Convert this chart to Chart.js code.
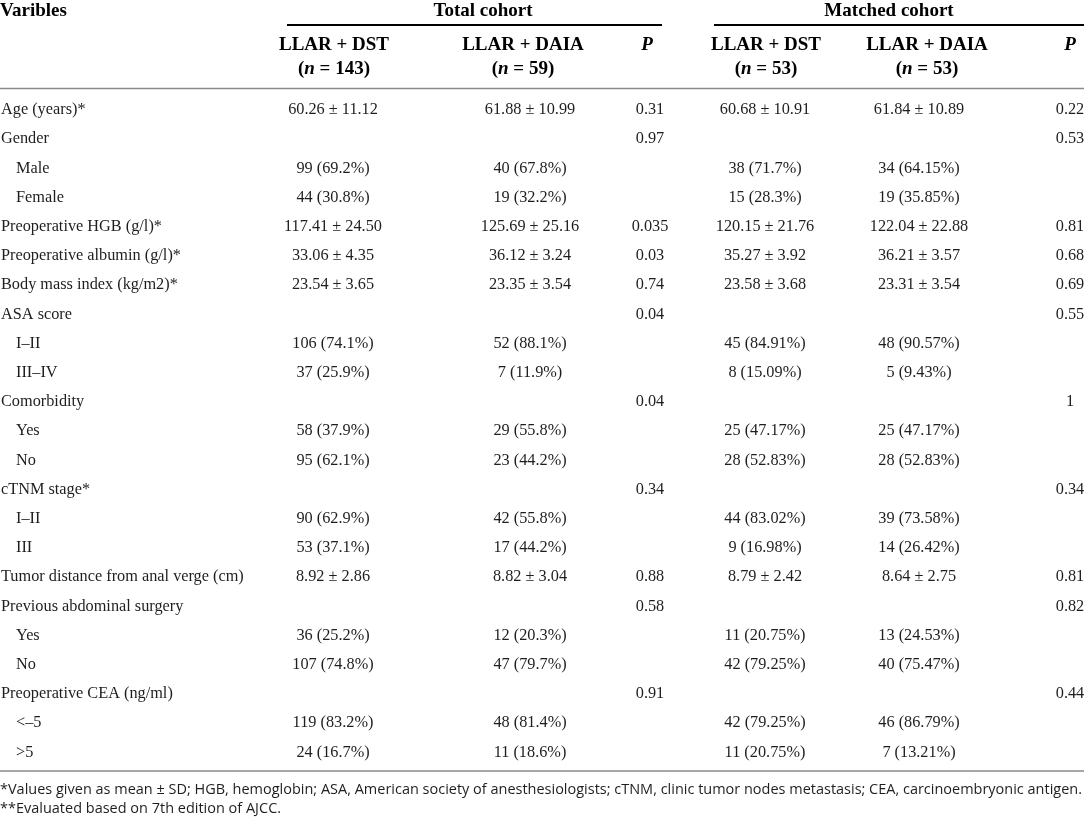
<!DOCTYPE html>
<html>
<head>
<meta charset="utf-8">
<title>Baseline characteristics</title>
<script src="https://cdn.jsdelivr.net/npm/chart.js@4.4.1/dist/chart.umd.min.js"></script>
<style>
  html, body { margin: 0; padding: 0; background: #fff; }
  #wrap { width: 1084px; height: 818px; }
</style>
</head>
<body>
<div id="wrap"><canvas id="tableChart" width="1084" height="818"></canvas></div>
<script>
// table content
const variables = [
  "Age (years)*", "Gender", "Male", "Female", "Preoperative HGB (g/l)*",
  "Preoperative albumin (g/l)*", "Body mass index (kg/m2)*", "ASA score", "I–II", "III–IV",
  "Comorbidity", "Yes", "No", "cTNM stage*", "I–II", "III",
  "Tumor distance from anal verge (cm)", "Previous abdominal surgery", "Yes", "No",
  "Preoperative CEA (ng/ml)", "<–5", ">5"
];
const subRows = [2, 3, 8, 9, 11, 12, 14, 15, 18, 19, 21, 22];

const totalDst = [
  "60.26 ± 11.12", "", "99 (69.2%)", "44 (30.8%)", "117.41 ± 24.50",
  "33.06 ± 4.35", "23.54 ± 3.65", "", "106 (74.1%)", "37 (25.9%)",
  "", "58 (37.9%)", "95 (62.1%)", "", "90 (62.9%)", "53 (37.1%)",
  "8.92 ± 2.86", "", "36 (25.2%)", "107 (74.8%)", "", "119 (83.2%)", "24 (16.7%)"
];
const totalDaia = [
  "61.88 ± 10.99", "", "40 (67.8%)", "19 (32.2%)", "125.69 ± 25.16",
  "36.12 ± 3.24", "23.35 ± 3.54", "", "52 (88.1%)", "7 (11.9%)",
  "", "29 (55.8%)", "23 (44.2%)", "", "42 (55.8%)", "17 (44.2%)",
  "8.82 ± 3.04", "", "12 (20.3%)", "47 (79.7%)", "", "48 (81.4%)", "11 (18.6%)"
];
const totalP = [
  "0.31", "0.97", "", "", "0.035", "0.03", "0.74", "0.04", "", "",
  "0.04", "", "", "0.34", "", "", "0.88", "0.58", "", "", "0.91", "", ""
];
const matchedDst = [
  "60.68 ± 10.91", "", "38 (71.7%)", "15 (28.3%)", "120.15 ± 21.76",
  "35.27 ± 3.92", "23.58 ± 3.68", "", "45 (84.91%)", "8 (15.09%)",
  "", "25 (47.17%)", "28 (52.83%)", "", "44 (83.02%)", "9 (16.98%)",
  "8.79 ± 2.42", "", "11 (20.75%)", "42 (79.25%)", "", "42 (79.25%)", "11 (20.75%)"
];
const matchedDaia = [
  "61.84 ± 10.89", "", "34 (64.15%)", "19 (35.85%)", "122.04 ± 22.88",
  "36.21 ± 3.57", "23.31 ± 3.54", "", "48 (90.57%)", "5 (9.43%)",
  "", "25 (47.17%)", "28 (52.83%)", "", "39 (73.58%)", "14 (26.42%)",
  "8.64 ± 2.75", "", "13 (24.53%)", "40 (75.47%)", "", "46 (86.79%)", "7 (13.21%)"
];
const matchedP = [
  "0.22", "0.53", "", "", "0.81", "0.68", "0.69", "0.55", "", "",
  "1", "", "", "0.34", "", "", "0.81", "0.82", "", "", "0.44", "", ""
];

const groupHeaders = ["Total cohort", "Matched cohort"];
const armHeaders = ["LLAR + DST", "LLAR + DAIA", "P", "LLAR + DST", "LLAR + DAIA", "P"];
const armN = ["143", "59", "", "53", "53", ""];
const footnotes = [
  "*Values given as mean ± SD; HGB, hemoglobin; ASA, American society of anesthesiologists; cTNM, clinic tumor nodes metastasis; CEA, carcinoembryonic antigen.",
  "**Evaluated based on 7th edition of AJCC."
];

// layout (x in table units = px, y in row units)
const colX = [333, 530, 650, 765, 919, 1070];
const headX = [334, 523, 647, 766, 927, 1070];
const groupX = [483, 889];
const groupLine = [[287, 662], [714, 1084]];
const rowTop = 110, rowStep = 29.2;
const hy = (px) => (px - rowTop) / rowStep;

const serif = '"Liberation Serif", "Times New Roman", serif';
const bodyFont = "16.3px " + serif;
const headFont = "bold 19px " + serif;

const columns = [totalDst, totalDaia, totalP, matchedDst, matchedDaia, matchedP];

function cellData(values, x) {
  const pts = [];
  values.forEach((v, r) => { if (v !== "") pts.push({ x: x, y: r, text: v }); });
  return pts;
}

const datasets = [{
  label: "Varibles",
  data: variables.map((v, r) => ({ x: subRows.includes(r) ? 16 : 1, y: r, text: v })),
  align: "left"
}];
columns.forEach((col, c) => {
  datasets.push({ label: "col" + c, data: cellData(col, colX[c]), align: "center" });
});
datasets.forEach((ds) => { ds.pointRadius = 0; ds.showLine = false; });

function drawSegments(ctx, parts, cx, y) {
  let w = 0;
  parts.forEach((p) => { ctx.font = p[1]; w += ctx.measureText(p[0]).width; });
  let x = cx - w / 2;
  ctx.textAlign = "left";
  parts.forEach((p) => {
    ctx.font = p[1];
    ctx.fillText(p[0], x, y);
    x += ctx.measureText(p[0]).width;
  });
}

const tablePlugin = {
  id: "tableText",
  afterDatasetsDraw(chart) {
    const ctx = chart.ctx;
    const xs = chart.scales.x, ys = chart.scales.y;
    ctx.save();
    ctx.textBaseline = "middle";

    // body cells placed from the point elements
    ctx.fillStyle = "#1e1e1e";
    ctx.font = bodyFont;
    chart.data.datasets.forEach((ds, i) => {
      const meta = chart.getDatasetMeta(i);
      ctx.textAlign = ds.align;
      meta.data.forEach((pt, j) => {
        ctx.fillText(ds.data[j].text, pt.x, pt.y);
      });
    });

    // header
    ctx.fillStyle = "#000";
    ctx.font = headFont;
    ctx.textAlign = "left";
    ctx.fillText("Varibles", xs.getPixelForValue(0), ys.getPixelForValue(hy(11)));
    ctx.textAlign = "center";
    groupHeaders.forEach((g, i) => {
      ctx.fillText(g, xs.getPixelForValue(groupX[i]), ys.getPixelForValue(hy(11)));
    });
    const boldItal = "italic " + headFont;
    armHeaders.forEach((h, i) => {
      const cx = xs.getPixelForValue(headX[i]);
      if (h === "P") {
        ctx.font = boldItal;
        ctx.textAlign = "center";
        ctx.fillText(h, cx, ys.getPixelForValue(hy(45)));
        return;
      }
      ctx.font = headFont;
      ctx.textAlign = "center";
      ctx.fillText(h, cx, ys.getPixelForValue(hy(45)));
      drawSegments(ctx, [["(", headFont], ["n", boldItal], [" = " + armN[i] + ")", headFont]],
        cx, ys.getPixelForValue(hy(69)));
    });

    // rules
    ctx.strokeStyle = "#000";
    ctx.lineWidth = 2;
    groupLine.forEach((l) => {
      const y = ys.getPixelForValue(hy(25));
      ctx.beginPath();
      ctx.moveTo(xs.getPixelForValue(l[0]), y);
      ctx.lineTo(xs.getPixelForValue(l[1]), y);
      ctx.stroke();
    });
    ctx.strokeStyle = "#8a8a8a";
    ctx.lineWidth = 1.5;
    [88.5, 771].forEach((py) => {
      const y = ys.getPixelForValue(hy(py));
      ctx.beginPath();
      ctx.moveTo(xs.getPixelForValue(0), y);
      ctx.lineTo(xs.getPixelForValue(1084), y);
      ctx.stroke();
    });

    // footnotes, condensed to the table width
    ctx.fillStyle = "#1e1e1e";
    ctx.font = '14px "Open Sans", "Noto Sans", sans-serif';
    ctx.textAlign = "left";
    const fitW = xs.getPixelForValue(1082) - xs.getPixelForValue(0);
    const k = fitW / ctx.measureText(footnotes[0]).width;
    [790, 809].forEach((py, i) => {
      ctx.save();
      ctx.translate(xs.getPixelForValue(0), ys.getPixelForValue(hy(py)));
      ctx.scale(k, 1);
      ctx.fillText(footnotes[i], 0, 0);
      ctx.restore();
    });
    ctx.restore();
  }
};

new Chart(document.getElementById("tableChart"), {
  type: "scatter",
  data: { datasets: datasets },
  options: {
    responsive: false,
    animation: false,
    layout: { padding: 0 },
    plugins: { legend: { display: false }, tooltip: { enabled: false } },
    scales: {
      x: { type: "linear", display: false, min: 0, max: 1084 },
      y: { type: "linear", display: false, reverse: true, min: hy(0), max: hy(818) }
    }
  },
  plugins: [tablePlugin]
});
</script>
</body>
</html>
